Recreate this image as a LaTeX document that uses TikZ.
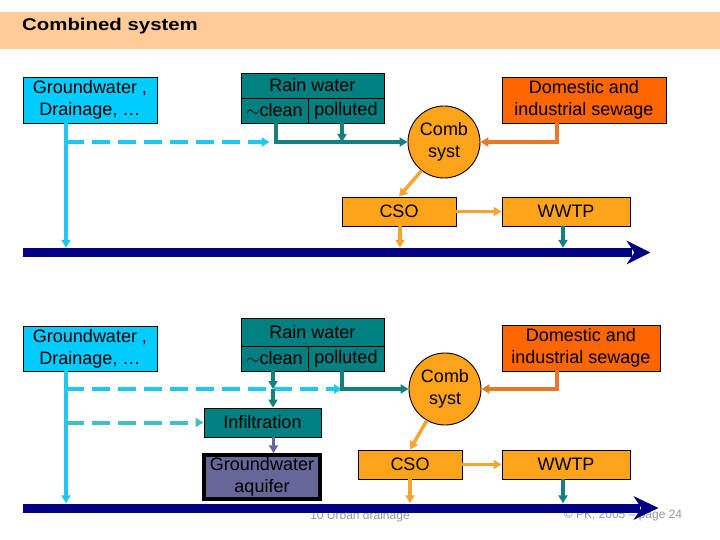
\documentclass[tikz,border=0pt]{standalone}
\usepackage{fontspec}
\usepackage{graphicx}
\setmainfont{Liberation Sans}
\usetikzlibrary{arrows.meta,calc}
\definecolor{hdr}{RGB}{255,204,153}
\definecolor{cyanbox}{RGB}{0,204,255}
\definecolor{cyanln}{RGB}{30,200,240}
\definecolor{tealbox}{RGB}{0,128,128}
\definecolor{tealln}{RGB}{20,128,128}
\definecolor{tealdash}{RGB}{64,192,192}
\definecolor{orangebox}{RGB}{255,163,26}
\definecolor{orangeln}{RGB}{245,165,50}
\definecolor{sewbox}{RGB}{255,102,0}
\definecolor{sewln}{RGB}{232,120,40}
\definecolor{aqbox}{RGB}{102,102,153}
\definecolor{navyb}{RGB}{0,0,128}
\definecolor{foot}{RGB}{150,150,150}
\begin{document}
\begin{tikzpicture}[x=1pt,y=-1pt,
  box/.style={draw=black,line width=0.9pt,inner sep=0pt,align=center,font=\fontsize{18}{22}\selectfont},
  circ/.style={circle,draw=black,line width=0.9pt,fill=orangebox,inner sep=0pt,minimum size=72pt,align=center,font=\fontsize{18}{22}\selectfont},
  tip/.style={-{Triangle[length=8pt,width=9pt]}},
  cyanflow/.style={tip,draw=cyanln,line width=3.5pt},
  cyandash/.style={tip,draw=cyanln,line width=4pt,dash pattern=on 18pt off 8pt},
  tealdashflow/.style={tip,draw=tealdash,line width=4pt,dash pattern=on 18pt off 8pt},
  tealflow/.style={draw=tealln,line width=4pt},
  orangeflow/.style={tip,draw=orangeln,line width=3.5pt},
  sewflow/.style={tip,draw=sewln,line width=4pt},
  aqflow/.style={tip,draw=aqbox,line width=3.5pt},
  bar/.style={fill=navyb,inner sep=0pt,minimum height=9pt,anchor=west},
  foottext/.style={text=foot,font=\fontsize{12}{12}\selectfont,inner sep=0pt}
]
\useasboundingbox (0,0) rectangle (720,540);
\fill[white] (0,0) rectangle (720,540);
% header
\fill[hdr] (0,12) rectangle (720,49);
\node[anchor=west,inner sep=0pt,font=\bfseries\fontsize{17}{17}\selectfont] (title) at (22,26) {\scalebox{1.2}[1]{Combined system}};

% footer texts (under the bar)
\node[foottext] (footA) at (360,516) {10 Urban drainage};
\node[foottext] (footB) at (623,516) {© PK, 2005 – page 24};

% ===== top system =====
\node[box,fill=cyanbox,minimum width=134pt,minimum height=46pt] (gwA) at (90,100) {Groundwater ,\\Drainage, …};
\node[box,fill=tealbox,minimum width=143pt,minimum height=25pt] (rainTopA) at (312.5,85.5) {Rain water};
\node[box,fill=tealbox,minimum width=67pt,minimum height=25pt] (rainCleanA) at (274.5,110.5) {$\sim$clean};
\node[box,fill=tealbox,minimum width=76pt,minimum height=25pt] (rainPollA) at (346,110.5) {polluted};
\node[circ] (combA) at (444,142) {Comb\\syst};
\node[box,fill=sewbox,minimum width=164pt,minimum height=46pt] (domA) at (584,100) {Domestic and\\industrial sewage};
\node[box,fill=orangebox,minimum width=114pt,minimum height=29pt] (csoA) at (399,211.5) {CSO};
\node[box,fill=orangebox,minimum width=128pt,minimum height=29pt] (wwtpA) at (566,211.5) {WWTP};
\node[bar,minimum width=609pt] (barA) at (23,252.5) {};
\fill[navyb] ($(barA.east)+(-6,-12)$) -- ($(barA.east)+(18,0)$) -- ($(barA.east)+(-6,12)$) -- ($(barA.east)+(2,0)$) -- cycle;

\coordinate (jA) at ($(gwA.south)+(-24,0)$);
\draw[cyanflow] (jA) -- (jA |- barA.north);
\draw[cyandash] (jA |- combA.west) -- ([xshift=-5pt]rainCleanA.south |- combA.west);
\draw[tealflow,tip] ([xshift=1pt]rainCleanA.south) |- (combA.west);
\draw[tealflow,tip] ([xshift=-4pt]rainPollA.south) -- ([xshift=-4pt]rainPollA.south |- combA.west);
\draw[sewflow] ([xshift=-27pt]domA.south) |- (combA.east);
\draw[orangeflow] (combA.-128) -- (csoA.north);
\draw[orangeflow] (csoA.east) -- (wwtpA.west);
\draw[orangeflow] ([xshift=1pt]csoA.south) -- ([xshift=1pt]csoA.south |- barA.north);
\draw[tealflow,line width=3.5pt,tip] ([xshift=-3pt]wwtpA.south) -- ([xshift=-3pt]wwtpA.south |- barA.north);

% ===== bottom system =====
\node[box,fill=cyanbox,minimum width=134pt,minimum height=45pt] (gwB) at (90,348.5) {Groundwater ,\\Drainage, …};
\node[box,fill=tealbox,minimum width=143pt,minimum height=28pt] (rainTopB) at (312.5,332) {Rain water};
\node[box,fill=tealbox,minimum width=67pt,minimum height=25pt] (rainCleanB) at (274.5,358.5) {$\sim$clean};
\node[box,fill=tealbox,minimum width=76pt,minimum height=25pt] (rainPollB) at (346,358.5) {polluted};
\node[circ] (combB) at (445,389) {Comb\\syst};
\node[box,fill=sewbox,minimum width=158pt,minimum height=46pt] (domB) at (581,348) {Domestic and\\industrial sewage};
\node[box,fill=tealbox,minimum width=117pt,minimum height=29pt] (infB) at (262.5,422.5) {Infiltration};
\node[box,fill=aqbox,line width=3.5pt,minimum width=116pt,minimum height=44pt] (aqB) at (262,477) {Groundwater\\aquifer};
\node[box,fill=orangebox,minimum width=104pt,minimum height=29pt] (csoB) at (410,464.5) {CSO};
\node[box,fill=orangebox,minimum width=128pt,minimum height=29pt] (wwtpB) at (566,464.5) {WWTP};
\node[bar,minimum width=617pt] (barB) at (23,508) {};
\fill[navyb] ($(barB.east)+(-7,-12)$) -- ($(barB.east)+(18,0)$) -- ($(barB.east)+(-7,12)$) -- ($(barB.east)+(1,0)$) -- cycle;

\coordinate (jB) at ($(gwB.south)+(-24,0)$);
\draw[cyanflow] (jB) -- (jB |- barB.north);
\draw[tealdashflow] (jB |- infB.west) -- (infB.west);
\draw[cyandash] (jB |- combB.west) -- ([xshift=-4pt]rainPollB.south |- combB.west);
\coordinate (cB) at ([xshift=-1.5pt]rainCleanB.south |- combB.west);
\draw[tealflow,line width=3.5pt,tip] ([xshift=-1.5pt]rainCleanB.south) -- (cB);
\draw[tealflow,line width=3.5pt,tip] (cB) -- (cB |- infB.north);
\draw[aqflow] ([xshift=11pt]infB.south) -- ([xshift=11pt]infB.south |- aqB.north);
\draw[tealflow,tip] ([xshift=-4pt]rainPollB.south) |- (combB.west);
\draw[sewflow] ([xshift=-24pt]domB.south) |- (combB.east);
\draw[orangeflow] (combB.-120) -- (csoB.north);
\draw[orangeflow] (csoB.east) -- (wwtpB.west);
\draw[orangeflow] (csoB.south) -- (csoB.south |- barB.north);
\draw[tealflow,line width=3.5pt,tip] ([xshift=-3pt]wwtpB.south) -- ([xshift=-3pt]wwtpB.south |- barB.north);
\end{tikzpicture}
\end{document}
